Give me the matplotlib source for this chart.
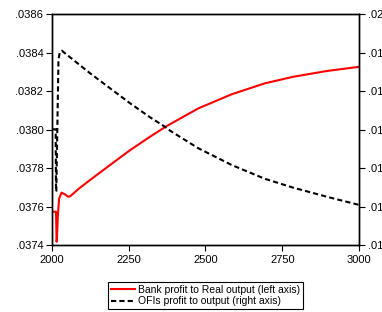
import matplotlib
matplotlib.use("Agg")
import matplotlib.pyplot as plt
from matplotlib.ticker import FuncFormatter, FixedFormatter

plt.rcParams['font.family'] = ['Liberation Sans', 'DejaVu Sans']

# Bank profit to real output (left axis)
bank_years = [2000, 2014, 2015, 2016, 2017, 2020, 2024, 2032, 2042, 2054, 2060,
              2090, 2125, 2190, 2255, 2320, 2368, 2385, 2477, 2585, 2693, 2785,
              2894, 3000]
bank_vals = [0.037573, 0.037573, 0.03750, 0.037417, 0.03743, 0.03755, 0.037640,
             0.037672, 0.037664, 0.037651, 0.037653, 0.037695, 0.037738, 0.037816,
             0.037893, 0.037963, 0.038012, 0.038028, 0.038110, 0.038183, 0.038240,
             0.038274, 0.038304, 0.038326]

# OFIs profit to output (right axis)
ofi_years = [2000, 2013, 2014, 2015, 2022, 2026, 2033, 2125, 2190, 2255, 2320,
             2368, 2385, 2477, 2585, 2693, 2785, 2894, 3000]
ofi_vals = [0.017006, 0.017006, 0.015385, 0.015400, 0.018800, 0.019000, 0.019047,
            0.018460, 0.018070, 0.017681, 0.017317, 0.017073, 0.016969, 0.016512,
            0.016079, 0.015720, 0.015490, 0.015255, 0.015040]

left_ticks = [0.0374, 0.0376, 0.0378, 0.0380, 0.0382, 0.0384, 0.0386]
right_ticks = [0.014, 0.015, 0.016, 0.017, 0.018, 0.019, 0.020]
right_tick_labels = ['.01', '.01', '.01', '.01', '.01', '.01', '.02']
x_ticks = [2000, 2250, 2500, 2750, 3000]

fig = plt.figure(figsize=(3.82, 3.12), dpi=100)
ax = fig.add_axes([0.1353, 0.2147, 0.8053, 0.7403])
ax2 = ax.twinx()

l1, = ax.plot(bank_years, bank_vals, color='#ff0000', lw=1.5,
              label='Bank profit to Real output (left axis)')
l2, = ax2.plot(ofi_years, ofi_vals, color='black', lw=1.5, linestyle=(0, (2.5, 1.5)),
               label='OFIs profit to output (right axis)')

ax.set_xlim(2000, 3000)
ax.set_ylim(0.0374, 0.0386)
ax2.set_ylim(0.014, 0.020)
ax.set_xticks(x_ticks)
ax.set_yticks(left_ticks)
ax2.set_yticks(right_ticks)

fmt = FuncFormatter(lambda v, p: ('%.4f' % v).lstrip('0'))
ax.yaxis.set_major_formatter(fmt)
ax2.yaxis.set_major_formatter(FixedFormatter(right_tick_labels))

for a in (ax, ax2):
    a.tick_params(direction='out', length=4, width=0.8, labelsize=8, pad=2)
    for s in a.spines.values():
        s.set_linewidth(1.0)
ax.tick_params(axis='x', pad=3)

fig.legend(handles=[l1, l2], loc='center', bbox_to_anchor=(0.538, 0.053),
           fontsize=7.5, frameon=True, fancybox=False, edgecolor='black',
           framealpha=1, handlelength=2.3, handletextpad=0.3, borderpad=0.3,
           labelspacing=0.15, borderaxespad=0)
fig.legends[0].get_frame().set_linewidth(0.8)

fig.savefig('out.png', dpi=100)
